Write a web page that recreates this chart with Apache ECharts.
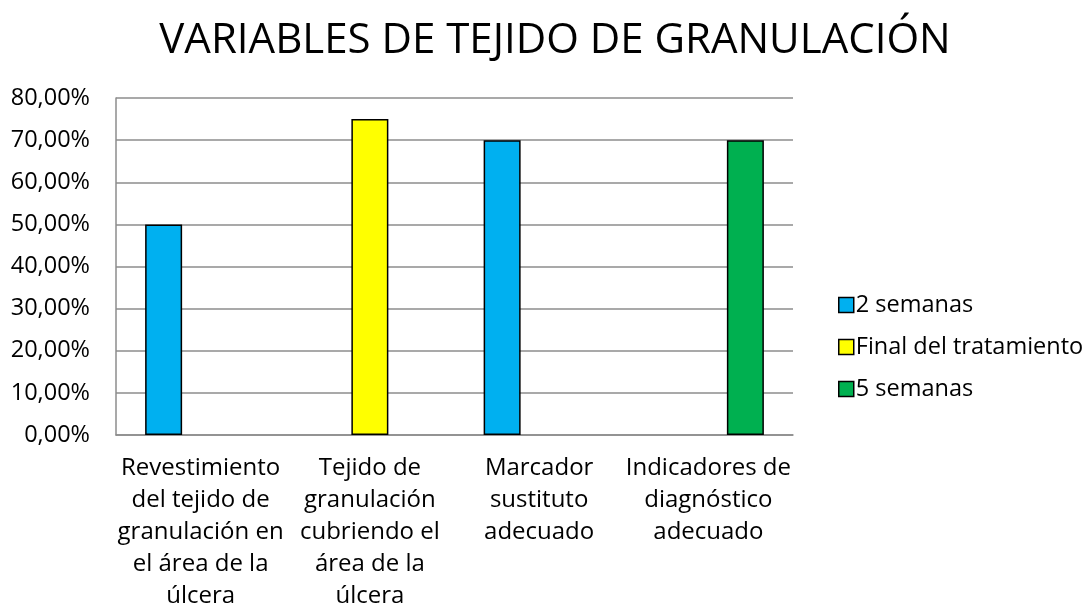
<!DOCTYPE html>
<html>
<head>
<meta charset="utf-8">
<script src="https://cdn.jsdelivr.net/npm/echarts@6/dist/echarts.min.js"></script>
<style>
  html, body { margin: 0; padding: 0; background: #fff; }
  #main { width: 1084px; height: 606px; }
</style>
</head>
<body>
<div id="main"></div>
<script>
// datos
const categories = [
    'Revestimiento\ndel tejido de\ngranulación en\nel área de la\núlcera',
    'Tejido de\ngranulación\ncubriendo el\nárea de la\núlcera',
    'Marcador\nsustituto\nadecuado',
    'Indicadores de\ndiagnóstico\nadecuado'
];
const seriesNames = ['2 semanas', 'Final del tratamiento', '5 semanas'];
const dosSemanas = [50, null, 70, null];
const finalTratamiento = [null, 75, null, null];
const cincoSemanas = [null, null, null, 70];
const colors = ['#00B0F0', '#FFFF00', '#00B050'];

const FONT = 'Open Sans';

const chart = echarts.init(document.getElementById('main'));

const mkSeries = (name, data, color) => ({
    name,
    type: 'bar',
    data,
    barWidth: 37,
    barGap: '0%',
    itemStyle: { color, borderColor: '#000', borderWidth: 1.5 },
});

chart.setOption({
    animation: false,
    title: {
        text: 'VARIABLES DE TEJIDO DE GRANULACIÓN',
        left: 550,
        top: 15,
        textAlign: 'center',
        textStyle: { fontFamily: FONT, fontSize: 42, fontWeight: 'normal', color: '#000' },
    },
    legend: {
        orient: 'vertical',
        left: 833,
        top: 288,
        itemWidth: 15,
        itemHeight: 15,
        itemGap: 18,
        icon: 'rect',
        itemStyle: { borderColor: '#000', borderWidth: 1.5 },
        textStyle: { fontFamily: FONT, fontSize: 23.5, lineHeight: 24, color: '#000', padding: [0, 0, 0, -3] },
        data: seriesNames,
    },
    grid: { left: 116, right: 291, top: 98, bottom: 171, outerBoundsMode: 'none' },
    xAxis: {
        type: 'category',
        data: categories,
        axisLine: { lineStyle: { color: '#8c8c8c', width: 1.5 } },
        axisTick: { show: false },
        axisLabel: {
            fontFamily: FONT, fontSize: 24, color: '#000', lineHeight: 32,
            margin: 17, interval: 0,
        },
    },
    yAxis: {
        type: 'value',
        min: 0,
        max: 80,
        interval: 10,
        axisLine: { show: true, lineStyle: { color: '#8c8c8c', width: 1.5 } },
        axisTick: { show: false },
        splitLine: { lineStyle: { color: '#8c8c8c', width: 1.5 } },
        axisLabel: {
            fontFamily: FONT, fontSize: 23.5, color: '#000', margin: 26,
            formatter: v => v.toFixed(2).replace('.', ',') + '%',
        },
    },
    series: [
        mkSeries(seriesNames[0], dosSemanas, colors[0]),
        mkSeries(seriesNames[1], finalTratamiento, colors[1]),
        mkSeries(seriesNames[2], cincoSemanas, colors[2]),
    ],
});
</script>
</body>
</html>
